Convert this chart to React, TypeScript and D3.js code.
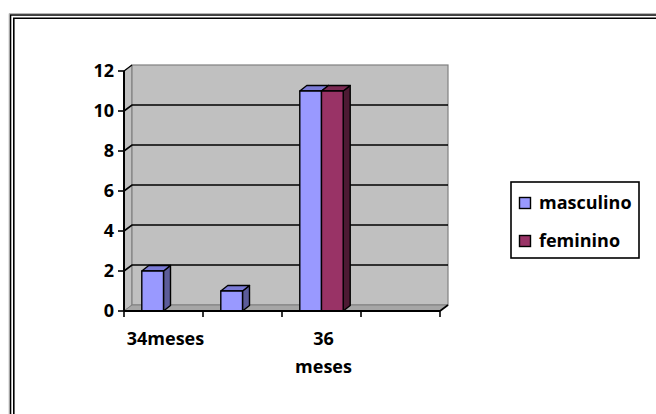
import { useRef, useEffect } from "react";
import * as d3 from "d3";

// categories on the x axis (Excel only showed every other label)
const categories = ["34meses", "35meses", "36 meses", "37meses"];
const categoryLabels = [["34meses"], [], ["36", "meses"], []];
const series = ["masculino", "feminino"];
const masculino = [2, 1, 11, 0];
const feminino = [0, 0, 11, 0];
const yTicks = [0, 2, 4, 6, 8, 10, 12];

const colors: Record<string, { front: string; top: string; side: string }> = {
  masculino: { front: "#9999ff", top: "#7b7bd6", side: "#5c5c99" },
  feminino: { front: "#993366", top: "#7a2952", side: "#4d1a33" },
};

export default function App() {
  const svgRef = useRef<SVGSVGElement>(null);

  useEffect(() => {
    if (!svgRef.current) return;
    const svg = d3.select(svgRef.current);
    svg.selectAll("*").remove();

    const width = 656;
    const height = 414;
    svg.attr("width", width).attr("height", height);

    // double frame, cropped at right and bottom
    svg.append("path").attr("d", `M10.5,${height + 5} V15 H${width + 5}`)
      .attr("fill", "none").attr("stroke", "#000").attr("stroke-width", 1.6);
    svg.append("path").attr("d", `M9.2,${height + 5} V13.6 H${width + 5}`)
      .attr("fill", "none").attr("stroke", "#999").attr("stroke-width", 0.8);
    svg.append("path").attr("d", `M13.8,${height + 5} V18.2 H${width + 5}`)
      .attr("fill", "none").attr("stroke", "#000").attr("stroke-width", 1.6);

    const font = "'Open Sans', Lato, sans-serif";
    const fs = 18;
    const x0 = 124, x1 = 440, yTop = 71, yBase = 311;
    const wdx = 8, wdy = -6; // wall depth
    const bdx = 7, bdy = -5.5; // bar depth

    const y = d3.scaleLinear().domain([0, 12]).range([yBase, yTop]);
    const x = d3.scaleBand<string>().domain(categories).range([x0, x1]);
    const xs = d3.scaleBand<string>().domain(series)
      .range([0, x.bandwidth()]).paddingOuter(0.82);

    const g = svg.append("g");

    // side wall
    g.append("path")
      .attr("d", `M${x0},${y(12)} L${x0 + wdx},${y(12) + wdy} L${x0 + wdx},${yBase + wdy} L${x0},${yBase} Z`)
      .attr("fill", "#c0c0c0").attr("stroke", "#808080").attr("stroke-width", 1);
    // back wall
    g.append("rect")
      .attr("x", x0 + wdx).attr("y", y(12) + wdy)
      .attr("width", x1 - x0).attr("height", yBase - y(12))
      .attr("fill", "#c0c0c0").attr("stroke", "#808080").attr("stroke-width", 1.2);
    // floor
    g.append("path")
      .attr("d", `M${x0},${yBase} L${x0 + wdx},${yBase + wdy} L${x1 + wdx},${yBase + wdy} L${x1},${yBase} Z`)
      .attr("fill", "#a6a6a6").attr("stroke", "#808080").attr("stroke-width", 1);

    // gridlines
    yTicks.filter((t) => t > 0 && t < 12).forEach((t) => {
      g.append("path")
        .attr("d", `M${x0},${y(t)} L${x0 + wdx},${y(t) + wdy} H${x1 + wdx}`)
        .attr("fill", "none").attr("stroke", "#000").attr("stroke-width", 1.6);
    });
    g.append("path")
      .attr("d", `M${x0},${y(12)} L${x0 + wdx},${y(12) + wdy}`)
      .attr("stroke", "#000").attr("stroke-width", 1.2);

    // bars
    categories.forEach((c, i) => {
      const vals: Record<string, number> = { masculino: masculino[i], feminino: feminino[i] };
      series.forEach((s) => {
        const v = vals[s];
        if (!v) return;
        const bx = (x(c) ?? 0) + (xs(s) ?? 0);
        const bw = xs.bandwidth();
        const by = y(v);
        const col = colors[s];
        const bar = g.append("g").attr("stroke", "#000").attr("stroke-width", 1.4)
          .attr("stroke-linejoin", "round");
        bar.append("path")
          .attr("d", `M${bx + bw},${by} L${bx + bw + bdx},${by + bdy} L${bx + bw + bdx},${yBase + bdy} L${bx + bw},${yBase} Z`)
          .attr("fill", col.side);
        bar.append("path")
          .attr("d", `M${bx},${by} L${bx + bdx},${by + bdy} L${bx + bw + bdx},${by + bdy} L${bx + bw},${by} Z`)
          .attr("fill", col.top);
        bar.append("rect").attr("x", bx).attr("y", by)
          .attr("width", bw).attr("height", yBase - by).attr("fill", col.front);
      });
    });

    // axes
    g.append("line").attr("x1", x0).attr("x2", x0).attr("y1", y(12)).attr("y2", yBase)
      .attr("stroke", "#000").attr("stroke-width", 2);
    g.append("line").attr("x1", x0).attr("x2", x1).attr("y1", yBase).attr("y2", yBase)
      .attr("stroke", "#000").attr("stroke-width", 2);
    g.append("path")
      .attr("d", `M${x1},${yBase} L${x1 + wdx},${yBase + wdy}`)
      .attr("stroke", "#000").attr("stroke-width", 1.6);

    yTicks.forEach((t) => {
      g.append("line").attr("x1", x0 - 6).attr("x2", x0).attr("y1", y(t)).attr("y2", y(t))
        .attr("stroke", "#000").attr("stroke-width", 1.6);
      g.append("text").attr("x", 114).attr("y", y(t)).attr("dy", "0.36em")
        .attr("text-anchor", "end").attr("font-family", font).attr("font-weight", 700)
        .attr("font-size", fs).attr("fill", "#000").text(t);
    });

    const xTickPos = [...categories.map((c) => x(c) ?? 0), x1];
    xTickPos.forEach((p) => {
      g.append("line").attr("x1", p).attr("x2", p).attr("y1", yBase).attr("y2", yBase + 6)
        .attr("stroke", "#000").attr("stroke-width", 1.6);
    });

    categories.forEach((c, i) => {
      const cx = (x(c) ?? 0) + x.bandwidth() / 2 + 2;
      categoryLabels[i].forEach((line, j) => {
        g.append("text").attr("x", cx).attr("y", 345 + j * 28)
          .attr("text-anchor", "middle").attr("font-family", font).attr("font-weight", 700)
          .attr("font-size", fs).attr("fill", "#000").text(line);
      });
    });

    // legend
    const legend = svg.append("g");
    legend.append("rect").attr("x", 511).attr("y", 182).attr("width", 128).attr("height", 76)
      .attr("fill", "#fff").attr("stroke", "#000").attr("stroke-width", 1.6);
    series.forEach((s, i) => {
      const ly = 203 + i * 38;
      legend.append("rect").attr("x", 519.5).attr("y", ly - 5.5).attr("width", 11).attr("height", 11)
        .attr("fill", colors[s].front).attr("stroke", "#000").attr("stroke-width", 1.4);
      legend.append("text").attr("x", 539).attr("y", ly).attr("dy", "0.36em")
        .attr("font-family", font).attr("font-weight", 700).attr("font-size", fs)
        .attr("fill", "#000").text(s);
    });
  }, []);

  return (
    <div style={{ position: "fixed", left: 0, top: 0, background: "#fff" }}>
      <svg ref={svgRef} style={{ display: "block" }} />
    </div>
  );
}
